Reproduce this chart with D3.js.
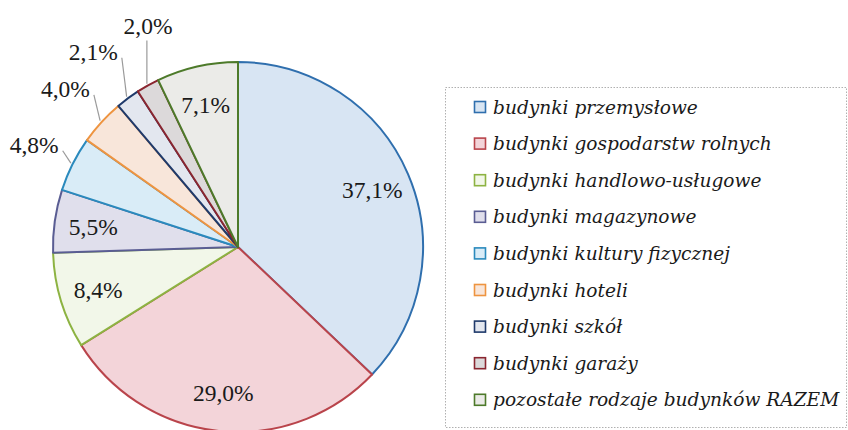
<!DOCTYPE html>
<html>
<head>
<meta charset="utf-8">
<script src="https://cdn.jsdelivr.net/npm/d3@7"></script>
<style>
  body { margin: 0; background: #fff; }
  svg { display: block; }
</style>
</head>
<body>
<svg width="848" height="430"></svg>
<script>
// data
var categories = [
    "budynki przemysłowe",
    "budynki gospodarstw rolnych",
    "budynki handlowo-usługowe",
    "budynki magazynowe",
    "budynki kultury fizycznej",
    "budynki hoteli",
    "budynki szkół",
    "budynki garaży",
    "pozostałe rodzaje budynków RAZEM"
];
var values = [37.1, 29.0, 8.4, 5.5, 4.8, 4.0, 2.1, 2.0, 7.1];

var strokeColors = ["#2f6fae", "#b9444b", "#8db342", "#5a5d93", "#2a8abd", "#ee9440", "#1f3a6b", "#8a2630", "#4d7a2a"];
var fillColors = ["#d8e5f3", "#f3d4d9", "#f2f7e9", "#e0dfec", "#d9ecf7", "#f8e6da", "#e3e7ef", "#dcd9da", "#ebebe8"];

var svg = d3.select("svg"),
    width = +svg.attr("width"),
    height = +svg.attr("height");

var cx = 238, cy = 247, R = 185;

var fmt = function(v) { return v.toFixed(1).replace(".", ",") + "%"; };

var pie = d3.pie().sort(null).value(function(d) { return d; });
var arcs = pie(values);

var arc = d3.arc().innerRadius(0).outerRadius(R);
var labelArc = d3.arc().innerRadius(R * 0.79).outerRadius(R * 0.79);

var g = svg.append("g").attr("transform", "translate(" + cx + "," + cy + ")");

g.selectAll("path.slice")
    .data(arcs)
    .enter().append("path")
    .attr("class", "slice")
    .attr("d", arc)
    .attr("fill", function(d, i) { return fillColors[i]; })
    .attr("stroke", function(d, i) { return strokeColors[i]; })
    .attr("stroke-width", 2)
    .attr("stroke-linejoin", "round");

// inside labels
g.selectAll("text.inner")
    .data(arcs.filter(function(d) { return d.value >= 5; }))
    .enter().append("text")
    .attr("class", "inner")
    .attr("transform", function(d) { return "translate(" + labelArc.centroid(d) + ")"; })
    .attr("text-anchor", "middle")
    .attr("dy", "0.35em")
    .style("font-family", "'Liberation Serif', serif")
    .style("font-size", "23.5px")
    .style("fill", "#1a1a1a")
    .text(function(d) { return fmt(d.value); });

// outside labels with leader lines
var nudge = { 7: [27, -12] };
var outer = arcs.map(function(d, i) { d.i = i; return d; }).filter(function(d) { return d.value < 5; });
var gaps = [43, 49, 58, 55];

outer.forEach(function(d, k) {
    var a = (d.startAngle + d.endAngle) / 2;
    var dx = Math.sin(a), dy = -Math.cos(a);
    var r = R + gaps[k];
    var lx = dx * r, ly = dy * r;
    if (nudge[d.i]) { lx += nudge[d.i][0]; ly += nudge[d.i][1]; }
    var ex = dx * (R + 2), ey = dy * (R + 2);

    var t = g.append("text")
        .attr("x", lx)
        .attr("y", ly)
        .attr("text-anchor", "middle")
        .attr("dy", "0.35em")
        .style("font-family", "'Liberation Serif', serif")
        .style("font-size", "23.5px")
        .style("fill", "#1a1a1a")
        .text(fmt(d.value));
    var w = t.node().getComputedTextLength();

    var sx, sy;
    if (Math.abs(ex - lx) < w / 2) { sx = ex; sy = ly + 15; }
    else { sx = lx + w / 2 + 4; sy = ly + 6; }

    g.append("line")
        .attr("x1", sx).attr("y1", sy)
        .attr("x2", ex).attr("y2", ey)
        .attr("stroke", "#9a9a9a")
        .attr("stroke-width", 1.2);
});

// legend
var legend = svg.append("g").attr("class", "legend");

legend.append("rect")
    .attr("x", 445.5).attr("y", 87.5)
    .attr("width", 401).attr("height", 340)
    .attr("fill", "none")
    .attr("stroke", "#b0b0b0")
    .attr("stroke-dasharray", "1.5,1.5");

var item = legend.selectAll("g.item")
    .data(categories)
    .enter().append("g")
    .attr("class", "item")
    .attr("transform", function(d, i) { return "translate(474," + (107 + i * 36.6) + ")"; });

item.append("rect")
    .attr("x", 0.5).attr("y", -5.5)
    .attr("width", 11).attr("height", 11)
    .attr("fill", function(d, i) { return fillColors[i]; })
    .attr("stroke", function(d, i) { return strokeColors[i]; })
    .attr("stroke-width", 1.6);

item.append("text")
    .attr("x", 19)
    .attr("dy", "0.35em")
    .style("font-family", "'DejaVu Serif', serif")
    .style("font-style", "italic")
    .style("font-size", "18.6px")
    .style("fill", "#1a1a1a")
    .text(function(d) { return d; });
</script>
</body>
</html>
